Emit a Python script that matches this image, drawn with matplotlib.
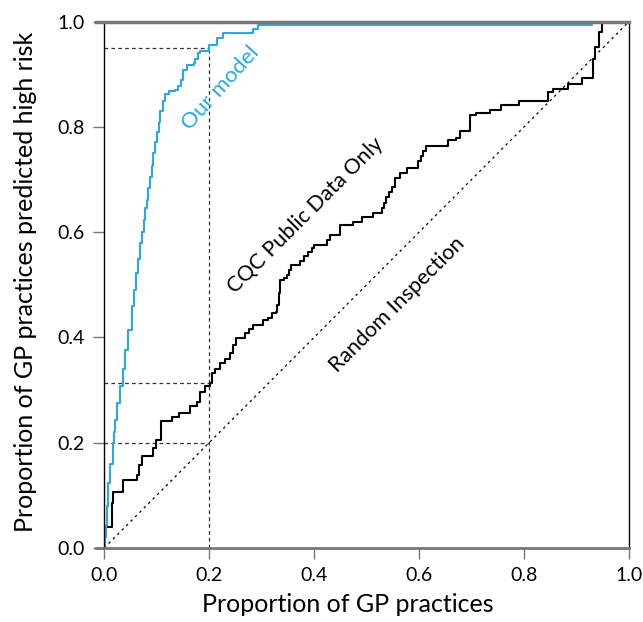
import matplotlib.pyplot as plt

plt.rcParams['font.family'] = ['Lato', 'DejaVu Sans']

# step knots (x, y)
model_x = [0.0, 0.002, 0.004, 0.006, 0.008, 0.012, 0.0165, 0.019, 0.021, 0.025, 0.030, 0.035,
           0.040, 0.046, 0.053, 0.057, 0.061, 0.065, 0.069, 0.072, 0.075, 0.077, 0.081, 0.084,
           0.088, 0.091, 0.094, 0.097, 0.100, 0.104, 0.107, 0.112, 0.116, 0.123, 0.135, 0.140,
           0.146, 0.150, 0.157, 0.171, 0.173, 0.178, 0.182, 0.2006, 0.215, 0.227, 0.283, 0.294,
           0.93, 0.93]
model_y = [0.0, 0.02, 0.044, 0.08, 0.123, 0.16, 0.199, 0.22, 0.243, 0.275, 0.307, 0.34,
           0.376, 0.415, 0.459, 0.49, 0.523, 0.55, 0.58, 0.60, 0.624, 0.646, 0.662, 0.684,
           0.705, 0.725, 0.75, 0.772, 0.79, 0.81, 0.83, 0.85, 0.862, 0.868, 0.870, 0.877,
           0.89, 0.909, 0.918, 0.921, 0.93, 0.94, 0.945, 0.956, 0.970, 0.978, 0.987, 0.993,
           1.0, 1.0]

cqc_x = [0.0, 0.0, 0.015, 0.017, 0.036, 0.062, 0.066, 0.072, 0.094, 0.099, 0.108, 0.129,
         0.142, 0.164, 0.177, 0.182, 0.192, 0.202, 0.205, 0.212, 0.221, 0.230, 0.240, 0.245,
         0.251, 0.269, 0.276, 0.284, 0.302, 0.312, 0.319, 0.328, 0.330, 0.333, 0.336, 0.342,
         0.348, 0.352, 0.357, 0.373, 0.380, 0.388, 0.396, 0.400, 0.424, 0.430, 0.450, 0.474,
         0.491, 0.513, 0.529, 0.533, 0.537, 0.542, 0.548, 0.554, 0.564, 0.577, 0.599, 0.603,
         0.608, 0.613, 0.656, 0.670, 0.679, 0.698, 0.709, 0.735, 0.757, 0.791, 0.846, 0.856,
         0.884, 0.910, 0.931, 0.935, 0.943, 0.948]
cqc_y = [0.0, 0.04, 0.085, 0.107, 0.129, 0.139, 0.158, 0.174, 0.19, 0.205, 0.242, 0.248,
         0.256, 0.269, 0.278, 0.297, 0.307, 0.313, 0.332, 0.341, 0.351, 0.360, 0.370, 0.385,
         0.399, 0.408, 0.416, 0.424, 0.433, 0.438, 0.446, 0.449, 0.462, 0.485, 0.510, 0.514,
         0.519, 0.528, 0.538, 0.546, 0.554, 0.562, 0.570, 0.576, 0.585, 0.595, 0.614, 0.620,
         0.629, 0.636, 0.646, 0.655, 0.667, 0.677, 0.686, 0.703, 0.712, 0.722, 0.735, 0.745,
         0.755, 0.763, 0.776, 0.780, 0.792, 0.823, 0.826, 0.833, 0.842, 0.849, 0.867, 0.873,
         0.882, 0.893, 0.930, 0.953, 0.980, 1.0]

cut_x = 0.2
cut_levels = [0.95, 0.313, 0.2]
ticks = [0.0, 0.2, 0.4, 0.6, 0.8, 1.0]

blue = '#2aa9e0'
grey = '#777777'

fig = plt.figure(figsize=(6.43, 6.22), dpi=100)
ax = fig.add_axes([0.162, 0.119, 0.816, 0.846])

ax.plot([0, 1], [0, 1], color='black', lw=0.9, ls=(0, (2, 3)))
for lvl in cut_levels:
    ax.plot([0, cut_x], [lvl, lvl], color='#333333', lw=0.9, ls=(0, (3, 2.5)))
ax.plot([cut_x, cut_x], [0, max(cut_levels)], color='#333333', lw=0.9, ls=(0, (3, 2.5)))

ax.plot(cqc_x, cqc_y, drawstyle='steps-post', color='black', lw=1.5)
ax.plot(model_x, model_y, drawstyle='steps-post', color=blue, lw=1.5)

ax.text(0.222, 0.874, 'Our model', color=blue, fontsize=16, rotation=48,
        ha='center', va='center')
ax.text(0.383, 0.633, 'CQC Public Data Only', color='black', fontsize=15.5, rotation=45,
        ha='center', va='center')
ax.text(0.558, 0.462, 'Random Inspection', color='black', fontsize=15.5, rotation=45,
        ha='center', va='center')

ax.set_xlim(0, 1)
ax.set_ylim(0, 1)
ax.set_xticks(ticks)
ax.set_yticks(ticks)
ax.set_xticklabels(['%.1f' % t for t in ticks])
ax.set_yticklabels(['%.1f' % t for t in ticks])
ax.tick_params(length=8, width=1, color=grey, labelsize=14, pad=6)

ax.spines['left'].set_color('black')
ax.spines['left'].set_linewidth(1)
ax.spines['right'].set_color('black')
ax.spines['right'].set_linewidth(1)
ax.spines['top'].set_visible(False)
ax.spines['bottom'].set_visible(False)
# top and bottom rules run a little past the left spine
ax.plot([-0.016, 1.0], [1, 1], color=grey, lw=2.5, clip_on=False, zorder=5)
ax.plot([-0.016, 1.0], [0, 0], color=grey, lw=2, clip_on=False, zorder=5)

ax.set_xlabel('Proportion of GP practices', fontsize=18)
ax.set_ylabel('Proportion of GP practices predicted high risk', fontsize=18)
ax.xaxis.set_label_coords(0.465, -0.085)
ax.yaxis.set_label_coords(-0.128, 0.505)

fig.savefig('out.png', dpi=100)
